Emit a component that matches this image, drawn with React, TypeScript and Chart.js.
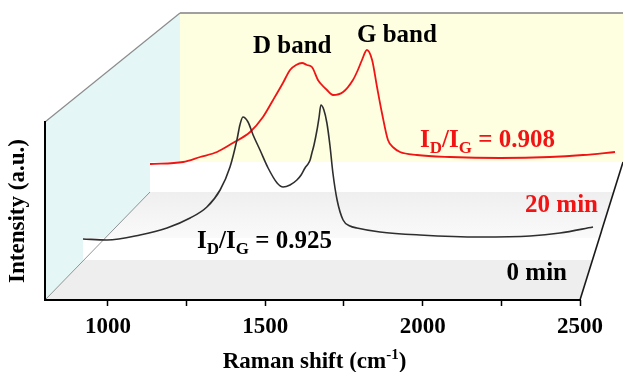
import React, { useEffect, useRef } from "react";
import { Chart, registerables } from "chart.js";

Chart.register(...registerables);

// ---------------- data ----------------
const wavenumber0min = [800, 880, 990, 1080, 1157, 1213, 1257, 1290, 1313, 1323, 1333, 1350, 1367, 1390, 1417, 1447, 1467, 1490, 1513, 1527, 1540, 1550, 1557, 1563, 1570, 1580, 1587, 1593, 1603, 1613, 1623, 1633, 1647, 1667, 1690, 1713, 1790, 1923, 2123, 2290, 2390, 2500];
const intensity0min = [21, 20, 25, 32, 42, 53, 70, 93, 120, 135, 143, 138, 125, 110, 92, 77, 73, 75, 80, 85, 92, 96, 100, 107, 115, 130, 143, 155, 150, 137, 115, 87, 60, 40, 34, 32, 28, 25, 23, 24, 27, 33];

const wavenumber20min = [800, 921, 983, 1045, 1103, 1166, 1213, 1250, 1286, 1312, 1334, 1356, 1374, 1392, 1414, 1422, 1447, 1469, 1506, 1542, 1560, 1575, 1593, 1612, 1630, 1648, 1670, 1692, 1714, 1776, 1897, 2080, 2262, 2383, 2500];
const intensity20min = [28, 30, 35, 40, 49, 60, 75, 92, 109, 122, 127, 129, 127, 125, 112, 109, 102, 97, 100, 112, 122, 132, 142, 132, 105, 79, 52, 44, 40, 37, 35, 34, 35, 37, 40];

const xTickValues = [1000, 1250, 1500, 1750, 2000, 2250, 2500];
const xLabelValues = [1000, 1500, 2000, 2500];
const xDomain = [800, 2500];
const seriesNames = ["0 min", "20 min"];
const ratioValues = ["0.925", "0.908"];
const bandNames = ["D band", "G band"];

// ---------------- layout / style ----------------
const W = 623;
const H = 372;
const FONT = '"Liberation Serif", "Times New Roman", serif';
const RED = "#f01414";
const BLACK_LINE = "#2e2e2e";

// chart area spans the whole width so every plane's points stay in range
const AREA = { left: 45, right: W, top: 122, bottom: 300 };
const FRONT = { x0: 45, x1: 580 };
const BACK = { left: 180, top: 13, bottom: 162 };
const PLANE0 = { x0: 83, x1: 593, base: 260, stripTop: 238 };
const PLANE20 = { x0: 150, x1: 615, base: 192, stripTop: 162 };
const EDGE_SLOPE = 43 / 138; // right floor edge dx per dy

function xRange(v0: number, v1: number, p0: number, p1: number) {
  const k = (p1 - p0) / (v1 - v0);
  const min = v0 - (p0 - AREA.left) / k;
  return { min, max: min + (AREA.right - AREA.left) / k };
}
function yRange(base: number) {
  const min = -(AREA.bottom - base);
  return { min, max: min + (AREA.bottom - AREA.top) };
}

const rFront = xRange(xDomain[0], xDomain[1], FRONT.x0, FRONT.x1);
const r0x = xRange(xDomain[0], xDomain[1], PLANE0.x0, PLANE0.x1);
const r20x = xRange(xDomain[0], xDomain[1], PLANE20.x0, PLANE20.x1);
const r0y = yRange(PLANE0.base);
const r20y = yRange(PLANE20.base);

function poly(ctx: CanvasRenderingContext2D, pts: number[][], fill: string | CanvasGradient) {
  ctx.beginPath();
  ctx.moveTo(pts[0][0], pts[0][1]);
  for (let i = 1; i < pts.length; i++) ctx.lineTo(pts[i][0], pts[i][1]);
  ctx.closePath();
  ctx.fillStyle = fill;
  ctx.fill();
}
function line(ctx: CanvasRenderingContext2D, a: number[], b: number[], color: string, w: number) {
  ctx.beginPath();
  ctx.moveTo(a[0], a[1]);
  ctx.lineTo(b[0], b[1]);
  ctx.strokeStyle = color;
  ctx.lineWidth = w;
  ctx.stroke();
}
const edgeX = (y: number) => FRONT.x1 + (AREA.bottom - y) * EDGE_SLOPE;
const diagX = (y: number) => AREA.left + (AREA.bottom - y) * ((BACK.left - AREA.left) / (AREA.bottom - BACK.bottom));

const scenePlugin = {
  id: "scene",
  beforeDraw(chart: any) {
    const ctx: CanvasRenderingContext2D = chart.ctx;
    ctx.save();
    ctx.fillStyle = "#ffffff";
    ctx.fillRect(0, 0, W, H);
    // left wall
    poly(ctx, [[AREA.left, AREA.top], [BACK.left, BACK.top], [BACK.left, BACK.bottom], [AREA.left, AREA.bottom]], "#e4f6f6");
    // back wall
    poly(ctx, [[BACK.left, BACK.top], [W + 2, BACK.top], [W + 2, BACK.bottom], [BACK.left, BACK.bottom]], "#fefee0");
    // floor
    poly(ctx, [[AREA.left, AREA.bottom], [FRONT.x1, AREA.bottom], [edgeX(BACK.bottom), BACK.bottom], [BACK.left, BACK.bottom]], "#eeeeee");
    // middle band gradient
    const g = ctx.createLinearGradient(0, PLANE20.base, 0, PLANE0.stripTop);
    g.addColorStop(0, "#efefef");
    g.addColorStop(1, "#fafafa");
    poly(ctx, [[diagX(PLANE20.base), PLANE20.base], [edgeX(PLANE20.base), PLANE20.base], [edgeX(PLANE0.stripTop), PLANE0.stripTop], [diagX(PLANE0.stripTop), PLANE0.stripTop]], g);
    // white strips of each plane
    poly(ctx, [[PLANE20.x0, PLANE20.stripTop], [edgeX(PLANE20.stripTop), PLANE20.stripTop], [edgeX(PLANE20.base), PLANE20.base], [PLANE20.x0, PLANE20.base]], "#ffffff");
    poly(ctx, [[PLANE0.x0, PLANE0.stripTop], [edgeX(PLANE0.stripTop), PLANE0.stripTop], [edgeX(PLANE0.base), PLANE0.base], [PLANE0.x0, PLANE0.base]], "#ffffff");
    // frame lines
    line(ctx, [AREA.left, AREA.top], [BACK.left, BACK.top], "#8c8c8c", 1.2);
    line(ctx, [BACK.left, BACK.top], [W + 2, BACK.top], "#a0a0a0", 2);
    line(ctx, [AREA.left, AREA.bottom], [PLANE20.x0, PLANE20.base], "#7a7a7a", 0.8);
    line(ctx, [FRONT.x1, AREA.bottom], [edgeX(BACK.bottom), BACK.bottom], "#1a1a1a", 1.6);
    // front x axis line, from the scale
    const xs = chart.scales.x;
    line(ctx, [xs.getPixelForValue(xDomain[0]) - 1, AREA.bottom], [xs.getPixelForValue(xDomain[1]) + 1, AREA.bottom], "#000", 2);
    ctx.restore();
  },
  afterDraw(chart: any) {
    const ctx: CanvasRenderingContext2D = chart.ctx;
    ctx.save();
    ctx.textBaseline = "alphabetic";
    const big = `bold 25px ${FONT}`;
    const small = `bold 17px ${FONT}`;

    const drawRatio = (x: number, y: number, value: string, color: string) => {
      const parts: [string, string, number][] = [
        ["I", big, 0],
        ["D", small, 6],
        ["/I", big, 0],
        ["G", small, 6],
        [" = " + value, big, 0],
      ];
      ctx.fillStyle = color;
      ctx.textAlign = "left";
      let cx = x;
      for (const [t, f, dy] of parts) {
        ctx.font = f;
        ctx.fillText(t, cx, y + dy);
        cx += ctx.measureText(t).width;
      }
    };

    ctx.font = big;
    ctx.fillStyle = "#000";
    ctx.textAlign = "left";
    ctx.fillText(bandNames[0], 253, 53);
    ctx.fillText(bandNames[1], 357, 42);

    drawRatio(420, 147, ratioValues[1], RED);
    drawRatio(197, 248, ratioValues[0], "#000");

    ctx.font = big;
    ctx.textAlign = "right";
    ctx.fillStyle = RED;
    ctx.fillText(seriesNames[1], 598, 212);
    ctx.fillStyle = "#000";
    ctx.fillText(seriesNames[0], 567, 280);

    // x axis title with superscript
    const main = "Raman shift (cm";
    const sup = "-1";
    const end = ")";
    const tf = `bold 23px ${FONT}`;
    const sf = `bold 15px ${FONT}`;
    ctx.font = tf;
    const w1 = ctx.measureText(main).width;
    const w3 = ctx.measureText(end).width;
    ctx.font = sf;
    const w2 = ctx.measureText(sup).width;
    const total = w1 + w2 + w3;
    const cx = (FRONT.x0 + FRONT.x1) / 2 + 2;
    let x = cx - total / 2;
    const yb = 368;
    ctx.textAlign = "left";
    ctx.fillStyle = "#000";
    ctx.font = tf;
    ctx.fillText(main, x, yb);
    x += w1;
    ctx.font = sf;
    ctx.fillText(sup, x, yb - 9);
    x += w2;
    ctx.font = tf;
    ctx.fillText(end, x, yb);
    ctx.restore();
  },
};

export default function App() {
  const ref = useRef<HTMLCanvasElement | null>(null);

  useEffect(() => {
    document.body.style.margin = "0";
    const canvas = ref.current;
    if (!canvas) return;
    const chart = new Chart(canvas, {
      type: "line",
      data: {
        datasets: [
          {
            label: seriesNames[0],
            data: wavenumber0min.map((v, i) => ({ x: v, y: intensity0min[i] })),
            xAxisID: "x0",
            yAxisID: "y0",
            borderColor: BLACK_LINE,
            borderWidth: 1.6,
            pointRadius: 0,
            cubicInterpolationMode: "monotone",
            clip: false,
            fill: false,
          },
          {
            label: seriesNames[1],
            data: wavenumber20min.map((v, i) => ({ x: v, y: intensity20min[i] })),
            xAxisID: "x20",
            yAxisID: "y20",
            borderColor: RED,
            borderWidth: 1.8,
            pointRadius: 0,
            cubicInterpolationMode: "monotone",
            clip: false,
            fill: false,
          },
        ],
      },
      options: {
        responsive: false,
        animation: false,
        devicePixelRatio: 1,
        layout: { padding: { left: 0, right: W - AREA.right, top: AREA.top, bottom: 0 } },
        plugins: { legend: { display: false }, tooltip: { enabled: false } },
        scales: {
          x: {
            type: "linear",
            position: "bottom",
            min: rFront.min,
            max: rFront.max,
            afterBuildTicks: (s: any) => {
              s.ticks = xTickValues.map((v) => ({ value: v }));
            },
            afterFit: (s: any) => {
              s.height = H - AREA.bottom;
              s.paddingLeft = 0;
              s.paddingRight = 0;
            },
            ticks: {
              autoSkip: false,
              maxRotation: 0,
              padding: 7,
              color: "#000",
              font: { family: FONT, size: 23, weight: "bold" },
              callback: (v: any) => (xLabelValues.includes(Number(v)) ? String(v) : ""),
            },
            grid: { drawOnChartArea: false, drawTicks: true, tickLength: 6, tickColor: "#000", tickWidth: 1.5 },
            border: { display: false },
          },
          y: {
            type: "linear",
            position: "left",
            min: 0,
            max: 1,
            afterFit: (s: any) => {
              s.width = AREA.left;
              s.paddingTop = 0;
              s.paddingBottom = 0;
            },
            ticks: { display: false },
            grid: { display: false },
            border: { display: true, color: "#000", width: 2 },
            title: {
              display: true,
              text: "Intensity (a.u.)",
              color: "#000",
              font: { family: FONT, size: 23, weight: "bold" },
              padding: { top: 4, bottom: 0 },
            },
          },
          x0: { type: "linear", display: false, min: r0x.min, max: r0x.max, bounds: "data" },
          x20: { type: "linear", display: false, min: r20x.min, max: r20x.max, bounds: "data" },
          y0: { type: "linear", display: false, min: r0y.min, max: r0y.max, bounds: "data" },
          y20: { type: "linear", display: false, min: r20y.min, max: r20y.max, bounds: "data" },
        },
      } as any,
      plugins: [scenePlugin],
    });
    return () => chart.destroy();
  }, []);

  return (
    <div style={{ width: W, height: H }}>
      <canvas ref={ref} width={W} height={H} style={{ display: "block" }} />
    </div>
  );
}
